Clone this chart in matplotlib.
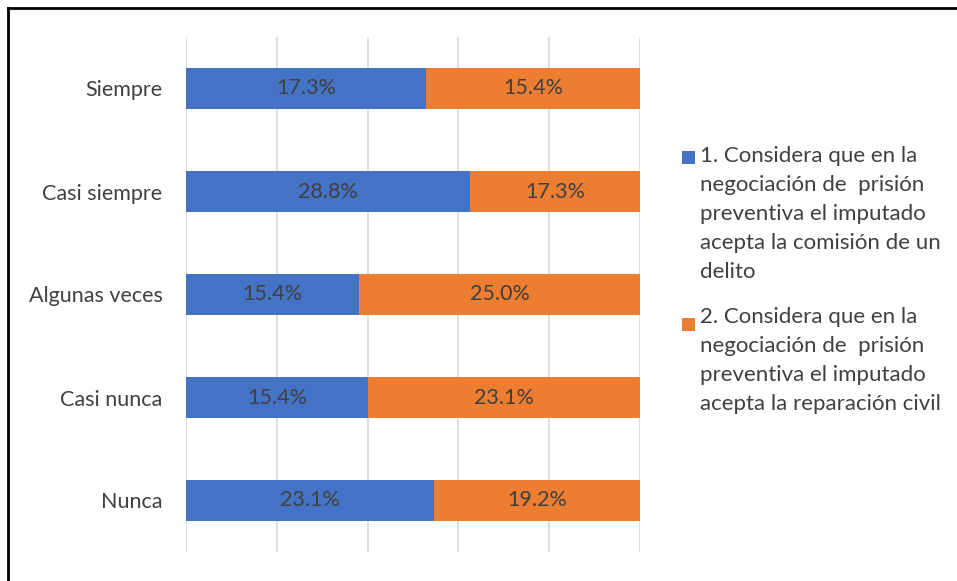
import matplotlib.pyplot as plt
import numpy as np
from matplotlib.patches import Rectangle
from matplotlib.lines import Line2D

plt.rcParams['font.family'] = ['Lato', 'DejaVu Sans']

categories = ["Siempre", "Casi siempre", "Algunas veces", "Casi nunca", "Nunca"]
serie1 = [17.3, 28.8, 15.4, 15.4, 23.1]
serie2 = [15.4, 17.3, 25.0, 23.1, 19.2]
labels = ["1. Considera que en la\nnegociación de  prisión\npreventiva el imputado\nacepta la comisión de un\ndelito",
          "2. Considera que en la\nnegociación de  prisión\npreventiva el imputado\nacepta la reparación civil"]
colors = ["#4472C4", "#ED7D31"]
txt = "#404040"

s1 = np.array(serie1)
s2 = np.array(serie2)
tot = s1 + s2
p1 = s1 / tot
p2 = s2 / tot

W, H = 957, 581
fig = plt.figure(figsize=(W / 100, H / 100), dpi=100)
ax = fig.add_axes([186/W, 1 - 552/H, (640-186)/W, (552-37)/H])

y = np.arange(len(categories))
ax.barh(y, p1, height=0.4, color=colors[0])
ax.barh(y, p2, left=p1, height=0.4, color=colors[1])

for i in range(len(categories)):
    ax.text(p1[i] / 2, y[i], f"{serie1[i]:.1f}%", ha="center", va="center", fontsize=15.5, color=txt)
    ax.text(p1[i] + p2[i] / 2, y[i], f"{serie2[i]:.1f}%", ha="center", va="center", fontsize=15.5, color=txt)

ax.set_xlim(0, 1)
ax.set_ylim(len(categories) - 0.5, -0.5)
ax.set_xticks(np.linspace(0, 1, 6))
ax.set_xticklabels([])
ax.tick_params(axis="x", length=0)
ax.tick_params(axis="y", length=0, pad=17, labelsize=15.5, labelcolor=txt)
ax.set_yticks(y)
ax.set_yticklabels(categories)
ax.grid(axis="x", color="#D9D9D9", linewidth=1.2)
ax.set_axisbelow(True)
for s in ax.spines.values():
    s.set_visible(False)

# legend drawn by hand so the square sits on the first line
tops = [146, 307]
sq_tops = [151, 318]
for lab, c, t, st in zip(labels, colors, tops, sq_tops):
    fig.add_artist(Rectangle((682/W, 1 - (st + 13)/H), 13/W, 13/H, facecolor=c,
                             edgecolor="none", transform=fig.transFigure))
    fig.text(700/W, 1 - t/H, lab, ha="left", va="top", fontsize=16, color=txt, linespacing=1.57)

# border of the chart area
fig.add_artist(Line2D([8/W, 1], [1 - 8/H, 1 - 8/H], color="black", linewidth=2, transform=fig.transFigure))
fig.add_artist(Line2D([8/W, 8/W], [0, 1 - 8/H], color="black", linewidth=2, transform=fig.transFigure))

fig.savefig("out.png", dpi=100)
